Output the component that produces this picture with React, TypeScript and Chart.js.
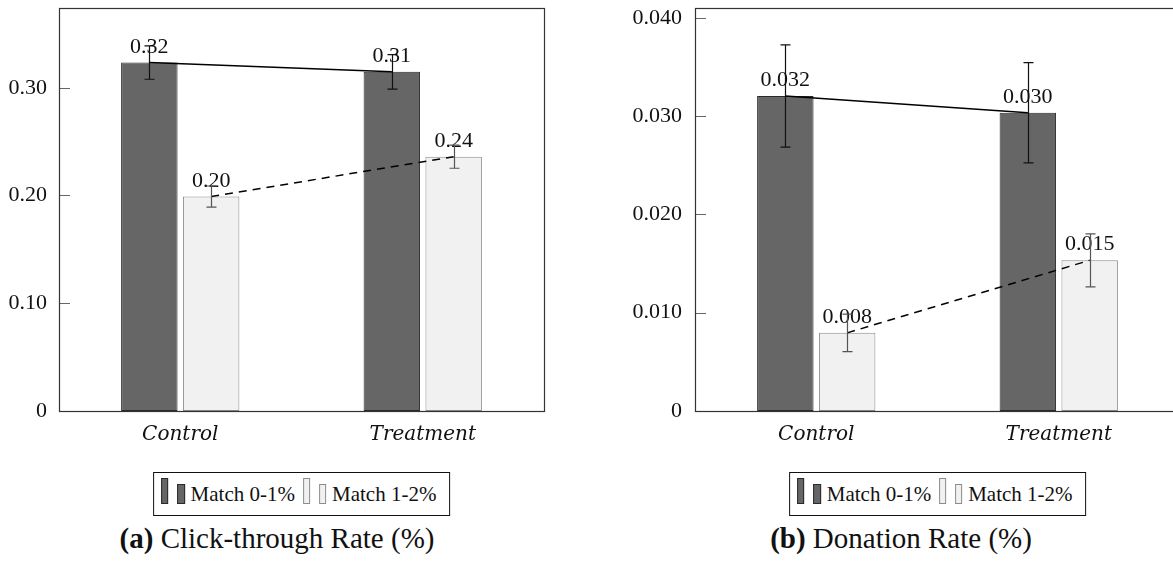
import React, { useEffect, useRef } from "react";
import { Chart, registerables } from "chart.js";
Chart.register(...registerables);

// ---------- data ----------
const categories = ["Control", "Treatment"];
const seriesNames = ["Match 0-1%", "Match 1-2%"];

// (a) Click-through rate
const ctrLow = [0.3234, 0.3148];
const ctrHigh = [0.199, 0.236];
const ctrLowErr = [0.0155, 0.016];
const ctrHighErr = [0.0098, 0.0107];
const ctrLowLabels = ["0.32", "0.31"];
const ctrHighLabels = ["0.20", "0.24"];
const ctrTicks = [0, 0.1, 0.2, 0.3];
const ctrTickLabels = ["0", "0.10", "0.20", "0.30"];
const ctrMax = 0.374;

// (b) Donation rate
const donLow = [0.03205, 0.03035];
const donHigh = [0.00795, 0.01533];
const donLowErr = [0.0052, 0.0051];
const donHighErr = [0.0019, 0.0027];
const donLowLabels = ["0.032", "0.030"];
const donHighLabels = ["0.008", "0.015"];
const donTicks = [0, 0.01, 0.02, 0.03, 0.04];
const donTickLabels = ["0", "0.010", "0.020", "0.030", "0.040"];
const donMax = 0.041;

const captionA = ["(a)", "Click-through Rate (%)"];
const captionB = ["(b)", "Donation Rate (%)"];

// ---------- styles ----------
const DARK_FILL = "#666666";
const DARK_EDGE = "#2a2a2a";
const LIGHT_FILL = "#f1f1f1";
const LIGHT_EDGE = "#8c8c8c";
const SERIF = "'Liberation Serif', 'Times New Roman', serif";
const AXIS_W = 95; // room for y tick labels inside the canvas
const PLOT_W = 485;
const RIGHT_PAD = 16;

const decorPlugin = {
  id: "decor",
  afterDatasetsDraw(chart: any, _args: any, opts: any) {
    const { ctx, chartArea: a, scales } = chart;
    const y = scales.y;
    ctx.save();

    // value labels
    ctx.font = `22px ${SERIF}`;
    ctx.fillStyle = "#111";
    ctx.textAlign = "center";
    ctx.textBaseline = "alphabetic";
    chart.data.datasets.forEach((_ds: any, i: number) => {
      const meta = chart.getDatasetMeta(i);
      meta.data.forEach((bar: any, j: number) => {
        ctx.fillText(opts.labels[i][j], bar.x, bar.y - 10);
      });
    });

    // connecting lines
    chart.data.datasets.forEach((_ds: any, i: number) => {
      const meta = chart.getDatasetMeta(i);
      const pts = meta.data;
      ctx.beginPath();
      ctx.strokeStyle = "#000";
      ctx.lineWidth = 1.5;
      ctx.setLineDash(i === 0 ? [] : [8, 6]);
      ctx.moveTo(pts[0].x, pts[0].y);
      for (let k = 1; k < pts.length; k++) ctx.lineTo(pts[k].x, pts[k].y);
      ctx.stroke();
    });
    ctx.setLineDash([]);

    // error bars
    chart.data.datasets.forEach((ds: any, i: number) => {
      const meta = chart.getDatasetMeta(i);
      ctx.strokeStyle = opts.errColors[i];
      ctx.lineWidth = 1.2;
      meta.data.forEach((bar: any, j: number) => {
        const v = ds.data[j];
        const e = opts.errors[i][j];
        const yt = y.getPixelForValue(v + e);
        const yb = y.getPixelForValue(v - e);
        const x = Math.round(bar.x) + 0.5;
        ctx.beginPath();
        ctx.moveTo(x, yt);
        ctx.lineTo(x, yb);
        ctx.moveTo(x - 5, yt);
        ctx.lineTo(x + 5, yt);
        ctx.moveTo(x - 5, yb);
        ctx.lineTo(x + 5, yb);
        ctx.stroke();
      });
    });

    // inner y ticks
    ctx.strokeStyle = "#666";
    ctx.lineWidth = 1;
    y.ticks.forEach((t: any) => {
      const py = Math.round(y.getPixelForValue(t.value)) + 0.5;
      ctx.beginPath();
      ctx.moveTo(a.left, py);
      ctx.lineTo(a.left + 11, py);
      ctx.stroke();
    });

    // axis box
    ctx.strokeStyle = "#333";
    ctx.lineWidth = 1.2;
    ctx.strokeRect(Math.round(a.left) + 0.5, Math.round(a.top) + 0.5, Math.round(a.right - a.left), Math.round(a.bottom - a.top));
    ctx.restore();
  },
};

type PanelProps = {
  plotLeft: number;
  low: number[];
  high: number[];
  lowErr: number[];
  highErr: number[];
  lowLabels: string[];
  highLabels: string[];
  ticks: number[];
  tickLabels: string[];
  max: number;
  tickPad: number;
};

function Panel(p: PanelProps) {
  const ref = useRef<HTMLCanvasElement | null>(null);
  const cw = AXIS_W + PLOT_W + RIGHT_PAD;
  useEffect(() => {
    if (!ref.current) return;
    const zeroPad = (s: any) => {
      s.paddingTop = 0;
      s.paddingBottom = 0;
      s.paddingLeft = 0;
      s.paddingRight = 0;
    };
    const chart = new Chart(ref.current, {
      type: "bar",
      data: {
        labels: categories,
        datasets: [
          {
            label: seriesNames[0],
            data: p.low,
            backgroundColor: DARK_FILL,
            borderColor: DARK_EDGE,
            borderWidth: 1,
            borderSkipped: false,
            categoryPercentage: 0.51,
            barPercentage: 0.913,
          },
          {
            label: seriesNames[1],
            data: p.high,
            backgroundColor: LIGHT_FILL,
            borderColor: LIGHT_EDGE,
            borderWidth: 1,
            borderSkipped: false,
            categoryPercentage: 0.51,
            barPercentage: 0.913,
          },
        ],
      },
      options: {
        animation: false,
        responsive: false,
        maintainAspectRatio: false,
        layout: { padding: { top: 8, right: RIGHT_PAD, left: 0, bottom: 0 } },
        plugins: {
          legend: { display: false },
          tooltip: { enabled: false },
          decor: {
            labels: [p.lowLabels, p.highLabels],
            errors: [p.lowErr, p.highErr],
            errColors: ["#111", "#555"],
          },
        } as any,
        scales: {
          x: {
            type: "category",
            offset: true,
            grid: { display: false, drawTicks: false },
            border: { display: false },
            ticks: {
              color: "#111",
              padding: 12,
              font: { family: "'DejaVu Serif', serif", style: "italic", size: 20 },
            },
            afterFit: (s: any) => {
              s.height = 59;
              zeroPad(s);
            },
          },
          y: {
            type: "linear",
            min: 0,
            max: p.max,
            grid: { display: false, drawTicks: false },
            border: { display: false },
            afterBuildTicks: (s: any) => {
              s.ticks = p.ticks.map((v) => ({ value: v }));
            },
            ticks: {
              color: "#111",
              padding: p.tickPad,
              font: { family: SERIF, size: 22 },
              callback: (v: any) => {
                const idx = p.ticks.findIndex((t) => Math.abs(t - Number(v)) < 1e-9);
                return idx >= 0 ? p.tickLabels[idx] : "";
              },
            },
            afterFit: (s: any) => {
              s.width = AXIS_W;
              zeroPad(s);
            },
          },
        },
      },
      plugins: [decorPlugin],
    } as any);
    return () => chart.destroy();
  }, []);
  return (
    <canvas
      ref={ref}
      width={cw}
      height={470}
      style={{ position: "absolute", left: p.plotLeft - AXIS_W, top: 0, width: cw, height: 470 }}
    />
  );
}

function Swatch({ w, h, fill, edge, ml }: { w: number; h: number; fill: string; edge: string; ml: number }) {
  return (
    <div
      style={{
        width: w,
        height: h,
        boxSizing: "border-box",
        background: fill,
        border: `1px solid ${edge}`,
        marginLeft: ml,
        flex: "none",
      }}
    />
  );
}

function Legend({ center }: { center: number }) {
  const txt: React.CSSProperties = { lineHeight: "21px", marginLeft: 6, marginBottom: -1, color: "#111" };
  return (
    <div
      style={{
        position: "absolute",
        left: center,
        top: 471.5,
        transform: "translateX(-50%)",
        height: 44,
        boxSizing: "border-box",
        border: "1px solid #111",
        display: "flex",
        alignItems: "flex-end",
        padding: "0 13px 11px 7px",
        fontFamily: SERIF,
        fontSize: 21,
        whiteSpace: "nowrap",
        background: "#fff",
      }}
    >
      <Swatch w={7} h={26} fill={DARK_FILL} edge={DARK_EDGE} ml={0} />
      <Swatch w={8} h={20} fill={DARK_FILL} edge={DARK_EDGE} ml={9} />
      <span style={txt}>{seriesNames[0]}</span>
      <Swatch w={7} h={26} fill={LIGHT_FILL} edge={LIGHT_EDGE} ml={8} />
      <Swatch w={7} h={20} fill={LIGHT_FILL} edge={LIGHT_EDGE} ml={9} />
      <span style={txt}>{seriesNames[1]}</span>
    </div>
  );
}

function Caption({ center, parts }: { center: number; parts: string[] }) {
  return (
    <div
      style={{
        position: "absolute",
        left: center,
        top: 524,
        transform: "translateX(-50%)",
        fontFamily: SERIF,
        fontSize: 29,
        lineHeight: "29px",
        whiteSpace: "nowrap",
        color: "#111",
      }}
    >
      <b>{parts[0]}</b> {parts[1]}
    </div>
  );
}

export default function App() {
  return (
    <div
      style={{
        position: "absolute",
        left: 0,
        top: 0,
        width: 1173,
        height: 564,
        overflow: "hidden",
        background: "#fff",
      }}
    >
      <Panel
        plotLeft={59}
        low={ctrLow}
        high={ctrHigh}
        lowErr={ctrLowErr}
        highErr={ctrHighErr}
        lowLabels={ctrLowLabels}
        highLabels={ctrHighLabels}
        ticks={ctrTicks}
        tickLabels={ctrTickLabels}
        max={ctrMax}
        tickPad={12}
      />
      <Panel
        plotLeft={695}
        low={donLow}
        high={donHigh}
        lowErr={donLowErr}
        highErr={donHighErr}
        lowLabels={donLowLabels}
        highLabels={donHighLabels}
        ticks={donTicks}
        tickLabels={donTickLabels}
        max={donMax}
        tickPad={13}
      />
      <Legend center={301.5} />
      <Legend center={937.7} />
      <Caption center={277} parts={captionA} />
      <Caption center={901} parts={captionB} />
    </div>
  );
}
